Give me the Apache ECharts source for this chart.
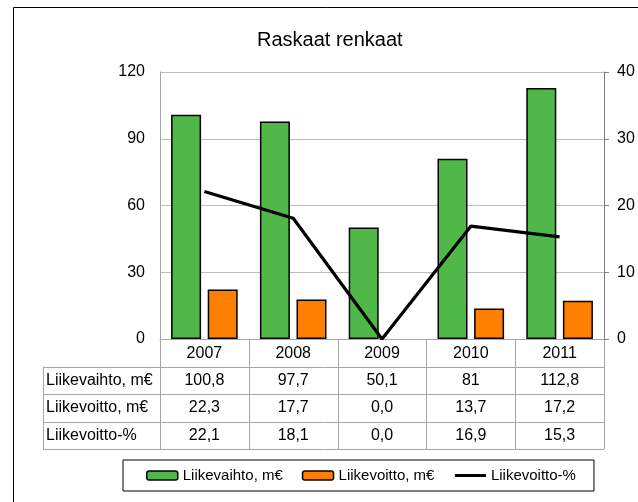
<!DOCTYPE html>
<html><head><meta charset="utf-8">
<script src="https://cdn.jsdelivr.net/npm/echarts@6/dist/echarts.min.js"></script>
<style>html,body{margin:0;padding:0;background:#fff}#c{width:638px;height:502px}</style>
</head><body><div id="c"></div>
<script>
const years = ['2007', '2008', '2009', '2010', '2011'];
const revenue = [100.8, 97.7, 50.1, 81, 112.8];
const profit = [22.3, 17.7, 0.0, 13.7, 17.2];
const margin = [22.1, 18.1, 0.0, 16.9, 15.3];
const rowLabels = ['Liikevaihto, m€', 'Liikevoitto, m€', 'Liikevoitto-%'];
const seriesNames = ['Liikevaihto, m€', 'Liikevoitto, m€', 'Liikevoitto-%'];
const leftTicks = {min: 0, max: 120, interval: 30};
const rightTicks = {min: 0, max: 40, interval: 10};

const FONT = "'Liberation Sans', Arial, sans-serif";
const fmtRaw = v => String(v).replace('.', ',');
const fmt1 = v => v.toFixed(1).replace('.', ',');
const tableRows = [revenue.map(fmtRaw), profit.map(fmt1), margin.map(fmt1)];

const barItems = (arr, color) => arr.map(v => ({
  value: v,
  itemStyle: {color: color, borderColor: '#000', borderWidth: v === 0 ? 0 : 1.5, opacity: v === 0 ? 0 : 1}
}));

const chart = echarts.init(document.getElementById('c'), null, {renderer: 'canvas'});
const GRID = {left: 160, right: 34, top: 72, bottom: 163};
const option = {
  animation: false,
  backgroundColor: '#fff',
  textStyle: {fontFamily: FONT},
  title: {
    text: 'Raskaat renkaat', left: 252, top: 25,
    textStyle: {fontFamily: FONT, fontSize: 20, fontWeight: 'normal', color: '#000'}
  },
  grid: GRID,
  legend: {
    left: 123, top: 460,
    padding: [8, 18, 8, 23],
    borderColor: '#000', borderWidth: 1,
    itemGap: 19, itemWidth: 31, itemHeight: 9,
    textStyle: {fontFamily: FONT, fontSize: 15, color: '#000'},
    data: [
      {name: seriesNames[0], itemStyle: {color: '#50b848', borderColor: '#000', borderWidth: 1.5}},
      {name: seriesNames[1], itemStyle: {color: '#ff7f00', borderColor: '#000', borderWidth: 1.5}},
      {name: seriesNames[2], itemStyle: {opacity: 0}, lineStyle: {color: '#000', width: 3}}
    ]
  },
  xAxis: {
    type: 'category', data: years,
    axisLine: {lineStyle: {color: '#a6a6a6', width: 1}},
    axisTick: {show: false},
    axisLabel: {fontFamily: FONT, fontSize: 16, color: '#000', margin: 7},
    splitLine: {show: false}
  },
  yAxis: [
    {
      type: 'value', min: leftTicks.min, max: leftTicks.max, interval: leftTicks.interval,
      axisLine: {show: true, lineStyle: {color: '#a6a6a6'}},
      axisTick: {show: false},
      axisLabel: {fontFamily: FONT, fontSize: 16, color: '#000', margin: 15},
      splitLine: {show: true, lineStyle: {color: '#bdbdbd', width: 1}}
    },
    {
      type: 'value', min: rightTicks.min, max: rightTicks.max, interval: rightTicks.interval,
      position: 'right',
      axisLine: {show: true, lineStyle: {color: '#7f7f7f'}},
      axisTick: {show: true, length: 5, lineStyle: {color: '#7f7f7f'}},
      axisLabel: {fontFamily: FONT, fontSize: 16, color: '#000', margin: 13},
      splitLine: {show: false}
    }
  ],
  series: [
    {
      name: seriesNames[0], type: 'bar', data: barItems(revenue, '#50b848'), barWidth: 30, barGap: '22%',
      itemStyle: {color: '#50b848', borderColor: '#000', borderWidth: 1.5}
    },
    {
      name: seriesNames[1], type: 'bar', data: barItems(profit, '#ff7f00'), barWidth: 30,
      itemStyle: {color: '#ff7f00', borderColor: '#000', borderWidth: 1.5}
    },
    {
      name: seriesNames[2], type: 'line', yAxisIndex: 1, data: margin,
      symbol: 'none', lineStyle: {color: '#000', width: 3.2}, itemStyle: {color: '#000'}
    }
  ]
};
chart.setOption(option);

// Build data table from arrays, positioned via the axis scale
const centers = years.map((y, i) => chart.convertToPixel({xAxisIndex: 0}, i));
const step = centers.length > 1 ? centers[1] - centers[0] : 88;
const axisY = chart.convertToPixel({yAxisIndex: 0}, 0);
const rowH = 27.5;
const tableLeft = 43;
const plotLeft = centers[0] - step / 2;
const plotRight = centers[centers.length - 1] + step / 2;
const tableBottom = axisY + rowH * 4;
const lineStyle = {stroke: '#a6a6a6', lineWidth: 1};
const g = [];
g.push({type: 'rect', shape: {x: 13.5, y: 7.5, width: 700, height: 700}, style: {fill: null, stroke: '#000', lineWidth: 1}, silent: true});
for (let i = 0; i <= years.length; i++) {
  const x = Math.round(plotLeft + i * step) + 0.5;
  g.push({type: 'line', shape: {x1: x, y1: axisY, x2: x, y2: tableBottom}, style: lineStyle, silent: true});
}
g.push({type: 'line', shape: {x1: tableLeft + 0.5, y1: axisY + rowH, x2: tableLeft + 0.5, y2: tableBottom}, style: lineStyle, silent: true});
for (let r = 1; r <= 4; r++) {
  const y = Math.round(axisY + r * rowH) + 0.5;
  g.push({type: 'line', shape: {x1: tableLeft, y1: y, x2: plotRight, y2: y}, style: lineStyle, silent: true});
}
rowLabels.forEach((lab, r) => {
  const cy = axisY + (r + 1.5) * rowH;
  g.push({type: 'text', x: tableLeft + 3, y: cy, style: {text: lab, font: '16px ' + FONT, fill: '#000', textVerticalAlign: 'middle', textAlign: 'left'}, silent: true});
  tableRows[r].forEach((v, i) => {
    g.push({type: 'text', x: centers[i], y: cy, style: {text: v, font: '16px ' + FONT, fill: '#000', textVerticalAlign: 'middle', textAlign: 'center'}, silent: true});
  });
});
chart.setOption({graphic: g});
</script></body></html>
